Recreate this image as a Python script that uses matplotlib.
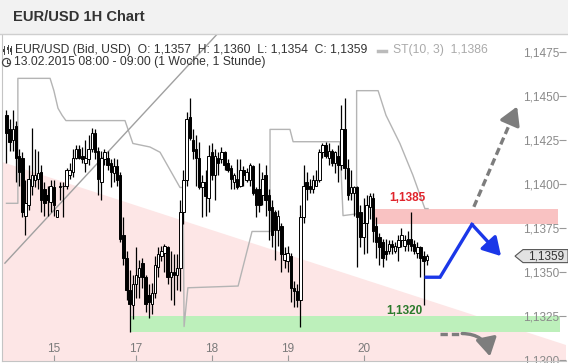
import matplotlib.pyplot as plt
import matplotlib.transforms as mtransforms
from matplotlib.patches import Rectangle, Polygon, Circle

plt.rcParams['font.family'] = ['Liberation Sans', 'DejaVu Sans']

# EUR/USD hourly bars, 13.02.2015 (Fri) .. 20.02.2015 20:00
opens = [1.1439, 1.1431, 1.1425, 1.1433, 1.1416, 1.1415, 1.1382, 1.1388, 1.1399, 1.1402,
         1.1403, 1.1407, 1.1397, 1.1394, 1.1390, 1.1398, 1.1381, 1.1398, 1.1399, 1.1399,
         1.1405, 1.1407, 1.1415, 1.1420, 1.1416, 1.1412, 1.1414, 1.1420, 1.1429, 1.1419,
         1.1401, 1.1414, 1.1415, 1.1412, 1.1406, 1.1410, 1.1405, 1.1371, 1.1358, 1.1340,
         1.1331, 1.1343, 1.1347, 1.1355, 1.1347, 1.1337, 1.1332, 1.1338, 1.1353, 1.1359,
         1.1361, 1.1364, 1.1347, 1.1350, 1.1348, 1.1352, 1.1384, 1.1402, 1.1438, 1.1425,
         1.1420, 1.1415, 1.1398, 1.1401, 1.1392, 1.1418, 1.1405, 1.1415, 1.1414, 1.1418,
         1.1412, 1.1409, 1.1401, 1.1403, 1.1399, 1.1408, 1.1402, 1.1402, 1.1410, 1.1397,
         1.1397, 1.1394, 1.1405, 1.1394, 1.1387, 1.1384, 1.1374, 1.1376, 1.1357, 1.1356,
         1.1359, 1.1341, 1.1339, 1.1334, 1.1381, 1.1401, 1.1399, 1.1397, 1.1399, 1.1402,
         1.1418, 1.1422, 1.1415, 1.1419, 1.1412, 1.1416, 1.1411, 1.1431, 1.1409, 1.1395,
         1.1395, 1.1398, 1.1384, 1.1370, 1.1378, 1.1387, 1.1392, 1.1376, 1.1370, 1.1367,
         1.1362, 1.1362, 1.1366, 1.1362, 1.1364, 1.1368, 1.1365, 1.1369, 1.1369, 1.1366,
         1.1361, 1.1364, 1.1359, 1.1357]
highs = [1.1442, 1.1437, 1.1442, 1.1436, 1.1420, 1.1418, 1.1402, 1.1411, 1.1432, 1.1420,
         1.1419, 1.1411, 1.1401, 1.1399, 1.1402, 1.1402, 1.1385, 1.1401, 1.1401, 1.1409,
         1.1412, 1.1420, 1.1422, 1.1422, 1.1421, 1.1425, 1.1428, 1.1432, 1.1431, 1.1421,
         1.1419, 1.1420, 1.1419, 1.1414, 1.1415, 1.1414, 1.1407, 1.1381, 1.1362, 1.1351,
         1.1348, 1.1364, 1.1357, 1.1358, 1.1348, 1.1343, 1.1344, 1.1359, 1.1364, 1.1365,
         1.1366, 1.1365, 1.1362, 1.1360, 1.1360, 1.1391, 1.1408, 1.1441, 1.1449, 1.1431,
         1.1428, 1.1424, 1.1405, 1.1408, 1.1422, 1.1423, 1.1420, 1.1418, 1.1421, 1.1419,
         1.1414, 1.1411, 1.1406, 1.1414, 1.1414, 1.1410, 1.1409, 1.1412, 1.1411, 1.1398,
         1.1412, 1.1407, 1.1411, 1.1397, 1.1391, 1.1385, 1.1385, 1.1378, 1.1364, 1.1365,
         1.1361, 1.1345, 1.1343, 1.1388, 1.1411, 1.1407, 1.1403, 1.1405, 1.1408, 1.1420,
         1.1423, 1.1424, 1.1423, 1.1420, 1.1419, 1.1422, 1.1445, 1.1449, 1.1414, 1.1408,
         1.1399, 1.1399, 1.1388, 1.1392, 1.1394, 1.1395, 1.1395, 1.1381, 1.1372, 1.1369,
         1.1369, 1.1368, 1.1368, 1.1367, 1.1371, 1.1375, 1.1371, 1.1373, 1.1384, 1.1368,
         1.1367, 1.1365, 1.1362, 1.1360]
lows = [1.1412, 1.1419, 1.1419, 1.1401, 1.1399, 1.1381, 1.1371, 1.1385, 1.1394, 1.1398,
        1.1397, 1.1384, 1.1382, 1.1382, 1.1384, 1.1382, 1.1381, 1.1391, 1.1381, 1.1397,
        1.1403, 1.1404, 1.1414, 1.1414, 1.1412, 1.1407, 1.1411, 1.1418, 1.1414, 1.1394,
        1.1391, 1.1411, 1.1408, 1.1398, 1.1401, 1.1399, 1.1367, 1.1354, 1.1334, 1.1316,
        1.1323, 1.1335, 1.1335, 1.1341, 1.1327, 1.1324, 1.1326, 1.1335, 1.1347, 1.1356,
        1.1350, 1.1343, 1.1334, 1.1331, 1.1340, 1.1339, 1.1377, 1.1399, 1.1425, 1.1414,
        1.1399, 1.1397, 1.1381, 1.1382, 1.1384, 1.1402, 1.1391, 1.1405, 1.1412, 1.1408,
        1.1407, 1.1397, 1.1397, 1.1397, 1.1398, 1.1399, 1.1401, 1.1399, 1.1394, 1.1381,
        1.1384, 1.1388, 1.1382, 1.1368, 1.1364, 1.1357, 1.1365, 1.1350, 1.1352, 1.1350,
        1.1333, 1.1330, 1.1330, 1.1319, 1.1378, 1.1391, 1.1395, 1.1395, 1.1399, 1.1401,
        1.1415, 1.1415, 1.1411, 1.1410, 1.1406, 1.1401, 1.1408, 1.1403, 1.1391, 1.1391,
        1.1382, 1.1353, 1.1364, 1.1360, 1.1361, 1.1380, 1.1367, 1.1358, 1.1354, 1.1353,
        1.1357, 1.1360, 1.1360, 1.1361, 1.1356, 1.1364, 1.1362, 1.1362, 1.1362, 1.1360,
        1.1358, 1.1347, 1.1331, 1.1354]
closes = [1.1429, 1.1424, 1.1431, 1.1415, 1.1407, 1.1384, 1.1389, 1.1403, 1.1405, 1.1405,
          1.1406, 1.1391, 1.1389, 1.1391, 1.1399, 1.1388, 1.1385, 1.1399, 1.1399, 1.1408,
          1.1408, 1.1415, 1.1420, 1.1415, 1.1414, 1.1415, 1.1420, 1.1429, 1.1418, 1.1403,
          1.1415, 1.1418, 1.1411, 1.1407, 1.1410, 1.1402, 1.1369, 1.1358, 1.1340, 1.1332,
          1.1343, 1.1348, 1.1352, 1.1347, 1.1332, 1.1333, 1.1338, 1.1354, 1.1360, 1.1362,
          1.1365, 1.1347, 1.1350, 1.1348, 1.1352, 1.1384, 1.1402, 1.1437, 1.1426, 1.1419,
          1.1415, 1.1398, 1.1401, 1.1393, 1.1416, 1.1405, 1.1416, 1.1412, 1.1418, 1.1411,
          1.1408, 1.1403, 1.1405, 1.1398, 1.1408, 1.1405, 1.1407, 1.1411, 1.1395, 1.1388,
          1.1388, 1.1403, 1.1391, 1.1385, 1.1371, 1.1374, 1.1382, 1.1360, 1.1360, 1.1361,
          1.1341, 1.1339, 1.1334, 1.1381, 1.1399, 1.1397, 1.1397, 1.1402, 1.1402, 1.1418,
          1.1422, 1.1416, 1.1419, 1.1412, 1.1418, 1.1411, 1.1431, 1.1409, 1.1394, 1.1398,
          1.1398, 1.1381, 1.1370, 1.1378, 1.1388, 1.1393, 1.1373, 1.1367, 1.1364, 1.1358,
          1.1360, 1.1366, 1.1364, 1.1365, 1.1368, 1.1371, 1.1368, 1.1366, 1.1365, 1.1362,
          1.1364, 1.1358, 1.1356, 1.1359]

day_ticks = [15, 41, 65, 89, 113]
day_labels = ['15', '17', '18', '19', '20']
price_ticks = [1.1300, 1.1325, 1.1350, 1.1375, 1.1400, 1.1425, 1.1450, 1.1475]

# SuperTrend ST(10, 3) as drawn: bar position, value
st_x = [0, 3.6, 3.6, 13.8, 15.0, 16.3, 17.6, 18.8, 37.5, 40.0, 45.4, 48.6, 54.9, 55.9,
        56.2, 57.4, 73.3, 77.7, 83.4, 83.4, 89.7, 90.7, 105.5, 106.5, 110.8, 110.8,
        117.6, 120.1, 124.5, 128.6, 132.4, 133.4]
st_y = [1.1389, 1.1389, 1.1460, 1.1460, 1.1453, 1.1443, 1.1439, 1.1436, 1.1436, 1.1423,
        1.1421, 1.1418, 1.1398, 1.1398, 1.1319, 1.1341, 1.1342, 1.1373, 1.1373, 1.1431,
        1.1431, 1.1424, 1.1424, 1.1382, 1.1383, 1.1453, 1.1453, 1.1439, 1.1423, 1.1405,
        1.1386, 1.1386]

trend_x = [-0.5, 66.6]
trend_y = [1.1355, 1.1485]
shade_x = [-1.42, 177.06]
shade_y = [1.14125, 1.13085]

support_lo, support_hi = 1.1316, 1.1325
support_x = [39.1, 175.2]
resist_lo, resist_hi = 1.1377, 1.1386
resist_x = [116.6, 174.5]

blue_x = [132.8, 137.2, 147.3, 156.5]
blue_y = [1.1347, 1.1347, 1.1377, 1.1359]
up_x = [147.9, 161.6]
up_y = [1.1387, 1.1444]
down_x = [137.2, 144.2, 153.0]
down_y = [1.1315, 1.1315, 1.1302]
last_close = 1.1359

fig = plt.figure(figsize=(5.68, 3.63), dpi=100)
ax = fig.add_axes([2 / 568, 2 / 363, 564 / 568, 327 / 363])
ax.set_xlim(-1.42, 177.06)
ax.set_ylim(1.12994, 1.14852)

ymin = ax.get_ylim()[0]
ax.add_patch(Polygon([(shade_x[0], shade_y[0]), (shade_x[1], shade_y[1]),
                      (shade_x[1], ymin), (shade_x[0], ymin)],
                     closed=True, facecolor='#fde6e6', edgecolor='none', zorder=0))
ax.fill_between(support_x, support_lo, support_hi, color='#bdf0bb', lw=0, zorder=1)
ax.fill_between(resist_x, resist_lo, resist_hi, color='#f9c2c2', lw=0, zorder=1)

ax.plot(st_x, st_y, color='#b4b4b4', lw=1.0, zorder=2)
ax.plot(trend_x, trend_y, color='#a0a0a0', lw=1.0, zorder=2)

# candles
for i in range(len(closes)):
    o, h, l, c = opens[i], highs[i], lows[i], closes[i]
    ax.vlines(i, l, h, color='black', lw=0.9, zorder=3)
    up = c >= o
    ax.bar(i, abs(c - o), bottom=min(o, c), width=0.78,
           facecolor='white' if up else 'black', edgecolor='black', lw=0.7, zorder=4)

ax.text(127.0, 1.1392, '1,1385', color='#e0242c', fontsize=8.5, fontweight='bold',
        ha='center', va='center', zorder=6)
ax.text(125.8, 1.1328, '1,1320', color='#2b7a2b', fontsize=8.5, fontweight='bold',
        ha='center', va='center', zorder=6)

# scenario arrows
blue = '#1b37e8'
ax.plot(blue_x[:3], blue_y[:3], color=blue, lw=2.4, solid_joinstyle='miter', zorder=5)
ax.annotate('', xy=(blue_x[3], blue_y[3]), xytext=(blue_x[2], blue_y[2]),
            arrowprops=dict(arrowstyle='-|>,head_length=0.6,head_width=0.35', color=blue,
                            lw=2.4, mutation_scale=18, shrinkA=0, shrinkB=0), zorder=5)

grey = '#7d7d7d'
t = 0.86
hx = up_x[0] + t * (up_x[1] - up_x[0])
hy = up_y[0] + t * (up_y[1] - up_y[0])
ax.plot([up_x[0], hx], [up_y[0], hy], color=grey, lw=2.4, ls=(0, (2.2, 1.2)), zorder=5)
ax.annotate('', xy=(up_x[1], up_y[1]), xytext=(hx, hy),
            arrowprops=dict(arrowstyle='-|>,head_length=0.6,head_width=0.35', color=grey,
                            lw=2.4, mutation_scale=18, shrinkA=0, shrinkB=0), zorder=5)

ax.plot(down_x[:2], down_y[:2], color=grey, lw=2.4, ls=(0, (2.2, 1.2)), zorder=5)
ax.annotate('', xy=(down_x[2], down_y[2]), xytext=(down_x[1], down_y[1]),
            arrowprops=dict(arrowstyle='-|>,head_length=0.6,head_width=0.35', color=grey,
                            lw=2.4, mutation_scale=18, shrinkA=0, shrinkB=0,
                            connectionstyle='arc3,rad=-0.4'), zorder=5)

# axes styling
for s in ['top', 'right']:
    ax.spines[s].set_visible(False)
for s in ['left', 'bottom']:
    ax.spines[s].set_color('#c4c4c4')
ax.set_facecolor('white')
ax.yaxis.tick_right()
ax.set_yticks(price_ticks, ['{:.4f}'.format(p).replace('.', ',') for p in price_ticks],
              ha='right')
ax.tick_params(axis='y', direction='in', length=5, pad=-5, labelsize=8.5,
               color='#999999', labelcolor='#8a8a8a')
ax.set_xticks(day_ticks, day_labels)
ax.tick_params(axis='x', direction='in', length=4, pad=-13, labelsize=8.5,
               color='#999999', labelcolor='#7a7a7a')

# last price tag
tr = mtransforms.blended_transform_factory(ax.transAxes, ax.transData)
fx = lambda px: (px - 2) / 564
dh = 0.00037
ax.add_patch(Polygon([(fx(515), last_close), (fx(523), last_close + dh), (fx(568), last_close + dh),
                      (fx(568), last_close - dh), (fx(523), last_close - dh)],
                     closed=True, transform=tr, facecolor='#e2e2e2', edgecolor='#555555',
                     lw=0.8, clip_on=False, zorder=6))
ax.text(fx(546), last_close, '{:.4f}'.format(last_close).replace('.', ','), transform=tr,
        fontsize=8.5, color='#333333', ha='center', va='center', zorder=7, clip_on=False)

# header
hdr = fig.add_axes([0, 0, 1, 1], zorder=5)
hdr.set_xlim(0, 568)
hdr.set_ylim(363, 0)
hdr.axis('off')
hdr.patch.set_alpha(0)
hdr.add_patch(Rectangle((0, 0), 568, 34, facecolor='#f2f2f2', edgecolor='none'))
hdr.plot([0, 568], [34, 34], color='#cfcfcf', lw=1)
hdr.text(13, 17, 'EUR/USD 1H Chart', fontsize=10.6, fontweight='bold', color='#333333',
         va='center')

for cx, top, bot, b0, b1 in [(4, 46, 54, 49, 52), (7.5, 45, 53, 47, 50), (11, 46, 54, 48, 52)]:
    hdr.plot([cx, cx], [top, bot], color='#444444', lw=0.7)
    hdr.add_patch(Rectangle((cx - 1, b0), 2, b1 - b0, facecolor='#444444', edgecolor='none'))
hdr.text(15, 50.5, 'EUR/USD (Bid, USD)  O: 1,1357  H: 1,1360  L: 1,1354  C: 1,1359',
         fontsize=8.7, color='#333333', va='center')
hdr.plot([378, 386], [50.5, 50.5], color='#bbbbbb', lw=2.5)
hdr.text(393, 50.5, 'ST(10, 3)  1,1386', fontsize=8.7, color='#aaaaaa', va='center')

hdr.add_patch(Circle((6.5, 62.5), 4, facecolor='none', edgecolor='#444444', lw=0.9))
hdr.plot([6.5, 6.5, 9], [59.5, 62.5, 62.5], color='#444444', lw=0.8)
hdr.text(14, 62.5, '13.02.2015 08:00 - 09:00 (1 Woche, 1 Stunde)', fontsize=8.7,
         color='#333333', va='center')

fig.savefig('out.png', dpi=100)
